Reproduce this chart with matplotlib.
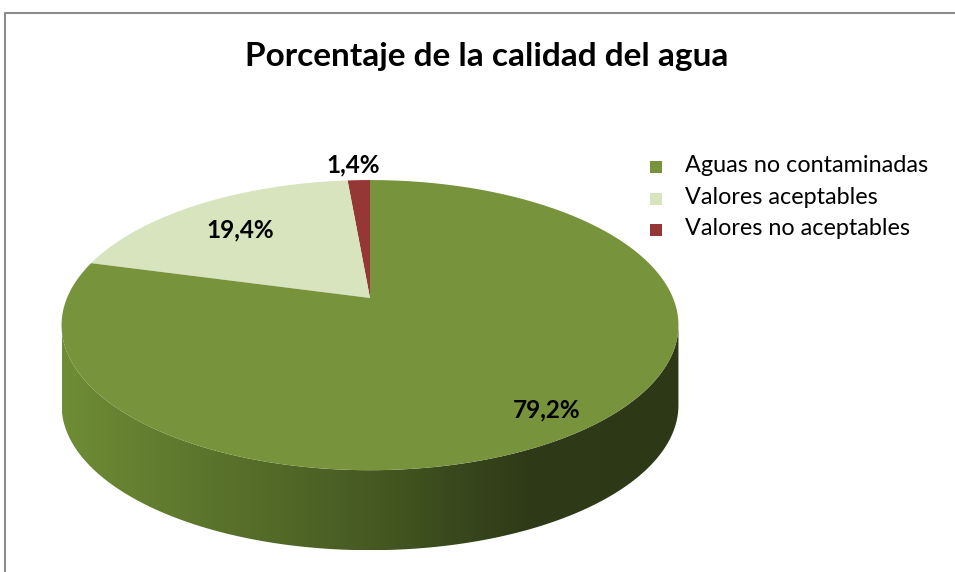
import numpy as np
import matplotlib
matplotlib.use("Agg")
import matplotlib.pyplot as plt
from matplotlib.patches import Polygon

labels = ["Aguas no contaminadas", "Valores aceptables", "Valores no aceptables"]
values = [79.2, 19.4, 1.4]
pct_text = ["79,2%", "19,4%", "1,4%"]
colors = ["#77933c", "#d7e4bd", "#953735"]
title = "Porcentaje de la calidad del agua"

# pie geometry in pixel space (perspective tilted disc)
CX, CY = 370, 298
A, B = 303, 140
K = 0.187
DEPTH = 80
# label baselines (pixels)
label_pos = [(547, 417), (240, 237), (353, 172)]


def project(theta_deg):
    # theta measured from top of the disc, counter-clockwise
    t = np.radians(theta_deg)
    x = -np.sin(t)
    y = np.cos(t)
    w = 1 + K * y
    return CX + A * x / w, CY - B * y / w


fig = plt.figure(figsize=(9.55, 5.72), dpi=100)
ax = fig.add_axes([0, 0, 1, 1])
ax.set_xlim(0, 955)
ax.set_ylim(572, 0)
ax.axis("off")

# slice angles: red first from the top going CCW, then light, then green
order = [2, 1, 0]
starts = {}
acc = 0.0
for i in order:
    starts[i] = (acc, acc + values[i] / sum(values) * 360)
    acc = starts[i][1]

# side wall (front part of the disc)
t_left = np.degrees(np.arccos(-K))
t_right = 360 - t_left
th = np.linspace(t_left, t_right, 300)
tx, ty = project(th)
side = np.concatenate([np.column_stack([tx, ty]),
                       np.column_stack([tx[::-1], ty[::-1] + DEPTH])])
side_patch = Polygon(side, closed=True, facecolor="none", edgecolor="none")
ax.add_patch(side_patch)
grad = np.linspace(0, 1, 256).reshape(1, -1)
cmap = matplotlib.colors.LinearSegmentedColormap.from_list(
    "side", ["#6f8c36", "#5a732b", "#465a22", "#2f3b18", "#2c3816"])
im = ax.imshow(grad, cmap=cmap, extent=(tx.min(), tx.max(), ty.max() + DEPTH, ty.min()),
               aspect="auto", zorder=1)
im.set_clip_path(side_patch)

# top faces
for i in order:
    a0, a1 = starts[i]
    th = np.linspace(a0, a1, max(int((a1 - a0) * 2), 4))
    px, py = project(th)
    pts = np.column_stack([np.r_[CX, px], np.r_[CY, py]])
    ax.add_patch(Polygon(pts, closed=True, facecolor=colors[i], edgecolor="none", zorder=2))

for (x, y), t in zip(label_pos, pct_text):
    ax.text(x, y, t, ha="center", va="baseline", fontsize=17.5, fontweight="bold",
            family="Lato", color="black", zorder=3)

ax.text(487, 66, title, ha="center", va="baseline", fontsize=24, fontweight="bold",
        family="Lato", color="black")

# legend
for k, (lab, c) in enumerate(zip(labels, colors)):
    base = 172 + k * 31.5
    ax.add_patch(plt.Rectangle((650, base - 11), 12, 12, facecolor=c, edgecolor="none"))
    ax.text(685, base, lab, ha="left", va="baseline", fontsize=16.8, family="Lato",
            color="black")

# chart border
ax.plot([4.5, 4.5, 965], [580, 13, 13], color="#8c8c8c", lw=1.5, clip_on=False)

fig.savefig("out.png", dpi=100)
